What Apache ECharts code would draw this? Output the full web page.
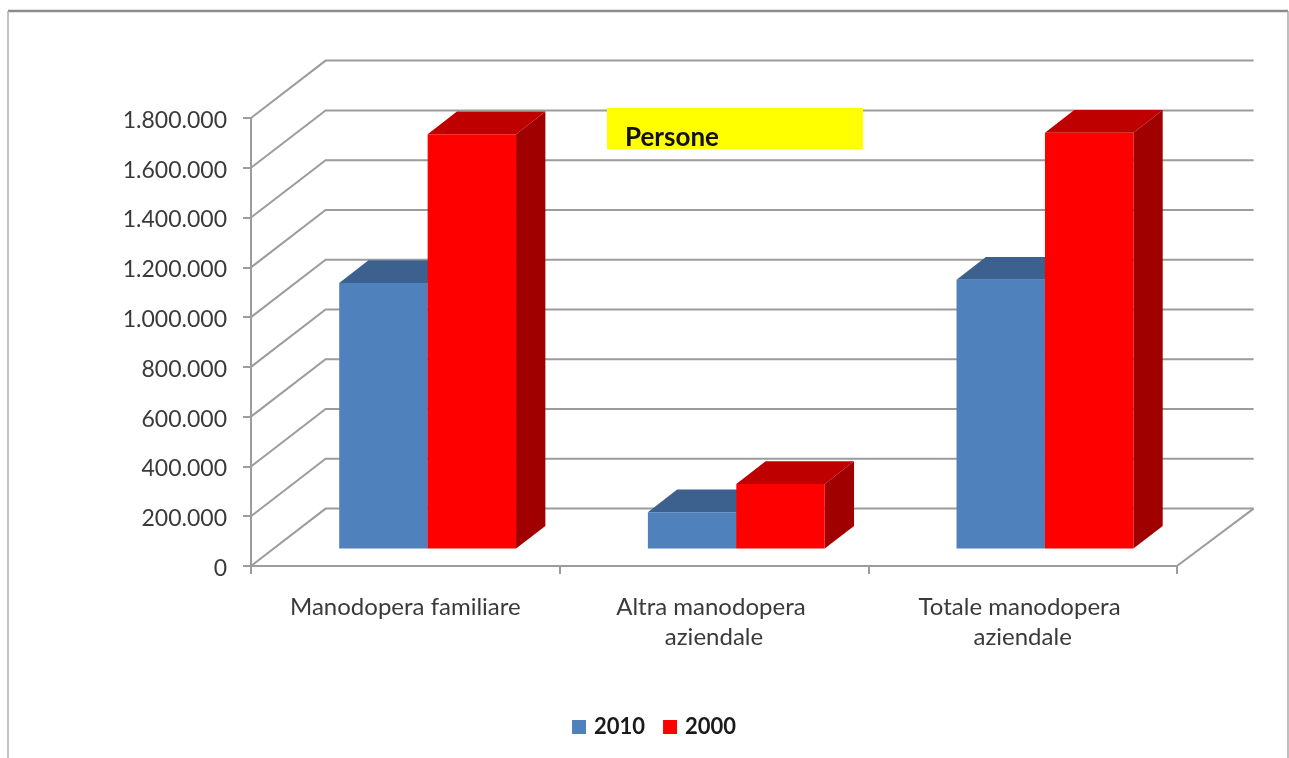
<!DOCTYPE html>
<html>
<head>
<meta charset="utf-8">
<style>html,body{margin:0;padding:0;background:#fff}#c{width:1289px;height:758px;filter:blur(0.5px)}</style>
<script src="https://cdn.jsdelivr.net/npm/echarts@6/dist/echarts.min.js"></script>
</head>
<body>
<div id="c"></div>
<script>
const categories = ['Manodopera familiare', 'Altra manodopera aziendale', 'Totale manodopera aziendale'];
const values2010 = [1067000, 146000, 1080000];
const values2000 = [1665000, 260000, 1671000];
const yTicks = [0, 200000, 400000, 600000, 800000, 1000000, 1200000, 1400000, 1600000, 1800000];

const LINE = '#9c9c9c';
const TEXT = '#3a3a3a';
const FONT = 'Lato, "Open Sans", sans-serif';
const WALL = [74.6, -57.4];     // depth of the floor/back wall
const BASE = [22.3, -17.4];     // where bar fronts stand on the floor
const DEPTH = [29.3, -22.7];    // bar depth
const BAR_W = 0.2865;           // bar width as a share of category band

function fmt(v) { return String(v).replace(/\B(?=(\d{3})+(?!\d))/g, '.'); }

function barRenderer(sign, front, top, side) {
  return function (params, api) {
    const band = api.size([1, 0])[0];
    const w = band * BAR_W;
    const p = api.coord([api.value(0), api.value(1)]);
    const b = api.coord([api.value(0), 0]);
    const x0 = p[0] + BASE[0] + (sign < 0 ? -w : 0);
    const x1 = x0 + w;
    const yT = p[1] + BASE[1];
    const yB = b[1] + BASE[1];
    const dx = DEPTH[0], dy = DEPTH[1];
    const poly = (pts, fill) => ({ type: 'polygon', shape: { points: pts }, style: { fill: fill } });
    return {
      type: 'group',
      children: [
        poly([[x1, yB], [x1 + dx, yB + dy], [x1 + dx, yT + dy], [x1, yT]], side),
        poly([[x0, yT], [x0 + dx, yT + dy], [x1 + dx, yT + dy], [x1, yT]], top),
        poly([[x0, yB], [x0, yT], [x1, yT], [x1, yB]], front)
      ]
    };
  };
}

function wallRenderer(params, api) {
  const v = api.value(1);
  const y = api.coord([0, v])[1];
  const cs = params.coordSys;
  const xL = cs.x, xR = cs.x + cs.width;
  const style = { stroke: LINE, lineWidth: 2, fill: null };
  const kids = [{
    type: 'polyline',
    shape: { points: [[xL, y], [xL + WALL[0], y + WALL[1]], [xR + WALL[0] + 2, y + WALL[1]]] },
    style: style
  }];
  if (v === 0) {
    kids.push({
      type: 'line',
      shape: { x1: xR, y1: y, x2: xR + WALL[0] + 2, y2: y + WALL[1] },
      style: style
    });
  }
  return { type: 'group', children: kids };
}

const chart = echarts.init(document.getElementById('c'), null, { renderer: 'canvas', width: 1289, height: 758 });
chart.setOption({
  animation: false,
  backgroundColor: '#ffffff',
  grid: { left: 251, top: 118, width: 926, height: 448, containLabel: false },
  legend: {
    data: [
      { name: '2010', itemStyle: { color: '#4F81BD' } },
      { name: '2000', itemStyle: { color: '#FF0000' } }
    ],
    left: 567, top: 711,
    icon: 'rect', itemWidth: 14, itemHeight: 14, itemGap: 18,
    textStyle: { fontFamily: FONT, fontWeight: 'bold', fontSize: 22, color: '#1a1a1a', padding: [0, 0, 0, 3] }
  },
  xAxis: {
    type: 'category',
    data: categories,
    axisLine: { lineStyle: { color: LINE, width: 2 } },
    axisTick: { show: true, alignWithLabel: false, length: 8, lineStyle: { color: LINE, width: 2 } },
    splitLine: { show: false },
    axisLabel: {
      interval: 0, margin: 26, width: 240, overflow: 'break', lineHeight: 30,
      fontFamily: FONT, fontSize: 24, color: TEXT
    }
  },
  yAxis: {
    type: 'value',
    min: 0, max: 1800000, interval: 200000,
    axisLine: { show: true, lineStyle: { color: LINE, width: 2 } },
    axisTick: { show: true, length: 8, lineStyle: { color: LINE, width: 2 } },
    splitLine: { show: false },
    axisLabel: {
      margin: 24, fontFamily: FONT, fontSize: 23, color: TEXT,
      verticalAlign: 'top', lineHeight: 5,
      formatter: fmt
    }
  },
  series: [
    {
      name: 'wall', type: 'custom', z: 1, silent: true,
      renderItem: wallRenderer,
      encode: { x: 0, y: 1 },
      data: yTicks.map(t => [0, t])
    },
    {
      name: '2010', type: 'custom', z: 2,
      renderItem: barRenderer(-1, '#4F81BD', '#3D618E', '#2F4D74'),
      encode: { x: 0, y: 1 },
      itemStyle: { color: '#4F81BD' },
      data: values2010.map((v, i) => [i, v])
    },
    {
      name: '2000', type: 'custom', z: 3,
      renderItem: barRenderer(1, '#FF0000', '#BF0000', '#A00000'),
      encode: { x: 0, y: 1 },
      itemStyle: { color: '#FF0000' },
      data: values2000.map((v, i) => [i, v])
    }
  ],
  graphic: [
    { type: 'rect', z: 10, shape: { x: 607, y: 108, width: 256, height: 41 }, style: { fill: '#FFFF00' } },
    { type: 'text', z: 11, style: { x: 625, y: 138, text: 'Persone', fill: '#111', font: 'bold 26px ' + FONT, textVerticalAlign: 'middle' } },
    { type: 'line', z: 0, shape: { x1: 8, y1: 11, x2: 1288, y2: 11 }, style: { stroke: '#8c8c8c', lineWidth: 2.5 } },
    { type: 'line', z: 0, shape: { x1: 8, y1: 11, x2: 8, y2: 758 }, style: { stroke: '#b0b0b0', lineWidth: 1.5 } },
    { type: 'line', z: 0, shape: { x1: 1288, y1: 11, x2: 1288, y2: 758 }, style: { stroke: '#aaaaaa', lineWidth: 1.5 } }
  ]
});
</script>
</body>
</html>
